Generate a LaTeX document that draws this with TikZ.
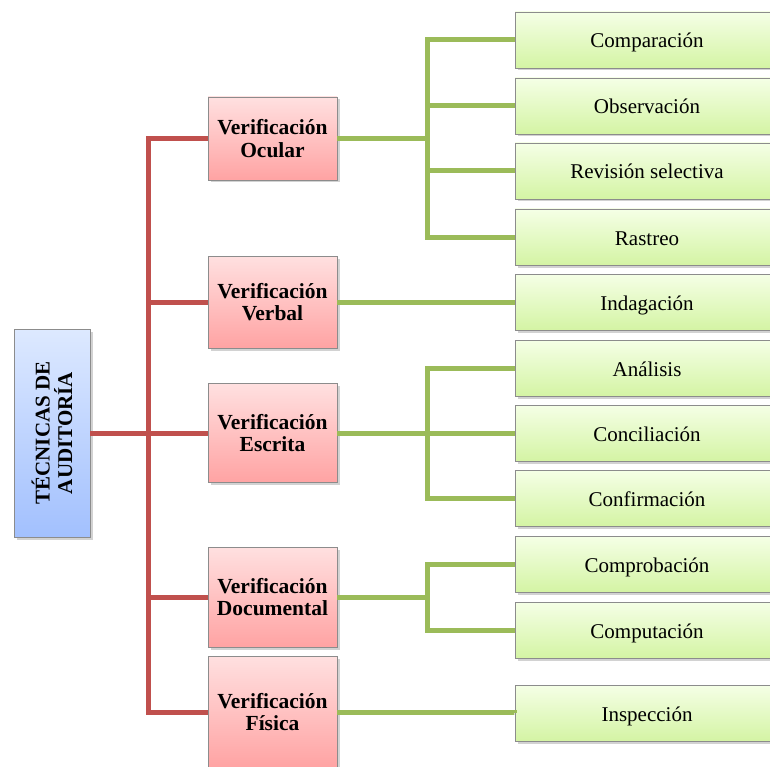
\documentclass[tikz,border=0pt]{standalone}
\usepackage{fontspec}
\setmainfont{Liberation Serif}
\usetikzlibrary{shadows}
\definecolor{redtop}{HTML}{FFE0E0}
\definecolor{redbot}{HTML}{FFA3A3}
\definecolor{greentop}{HTML}{F5FFE6}
\definecolor{greenbot}{HTML}{D4F4A4}
\definecolor{bluetop}{HTML}{DDE9FF}
\definecolor{bluebot}{HTML}{A2C0FE}
\definecolor{redln}{HTML}{C0504D}
\definecolor{greenln}{HTML}{9BBB59}
\definecolor{boxedge}{HTML}{8C8C8C}
\begin{document}
\begin{tikzpicture}[x=1pt,y=-1pt,
  box/.style={draw=boxedge, line width=0.9pt, inner sep=0pt, align=center,
    drop shadow={shadow xshift=2.5pt, shadow yshift=-2.5pt, opacity=0.35}},
  catbox/.style={box, top color=redtop, bottom color=redbot, minimum width=129,
    font=\fontsize{21.5}{22.5}\selectfont\bfseries},
  leafbox/.style={box, top color=greentop, bottom color=greenbot, minimum width=264,
    minimum height=56, text height=18pt, text depth=2pt, font=\fontsize{21}{23}\selectfont},
  rootbox/.style={box, top color=bluetop, bottom color=bluebot, minimum width=76,
    minimum height=208},
  redline/.style={draw=redln, line width=5pt},
  greenline/.style={draw=greenln, line width=5pt}]
\clip (0,0) rectangle (770,767);
\fill[white] (0,0) rectangle (770,767);

% root
\node[rootbox] (root) at (52,433) {};
\node[rotate=90, align=center, inner sep=0pt,
  font=\fontsize{21}{22.5}\selectfont\bfseries] (rootlabel) at (root.center) {TÉCNICAS DE\\AUDITORÍA};

% categories
\node[catbox, minimum height=83] (ocular) at (272.5,138.5) {Verificación\\Ocular};
\node[catbox, minimum height=92] (verbal) at (272.5,302) {Verificación\\Verbal};
\node[catbox, minimum height=99] (escrita) at (272.5,433) {Verificación\\Escrita};
\node[catbox, minimum height=100] (documental) at (272.5,597) {Verificación\\Documental};
\node[catbox, minimum height=112] (fisica) at (272.5,712) {Verificación\\Física};

% leaves
\node[leafbox] (comparacion) at (647,40) {Comparación};
\node[leafbox] (observacion) at (647,106) {Observación};
\node[leafbox] (revision) at (647,171) {Revisión selectiva};
\node[leafbox] (rastreo) at (647,237) {Rastreo};
\node[leafbox] (indagacion) at (647,302) {Indagación};
\node[leafbox] (analisis) at (647,368) {Análisis};
\node[leafbox] (conciliacion) at (647,433) {Conciliación};
\node[leafbox] (confirmacion) at (647,498) {Confirmación};
\node[leafbox] (comprobacion) at (647,564) {Comprobación};
\node[leafbox] (computacion) at (647,630) {Computación};
\node[leafbox] (inspeccion) at (647,713) {Inspección};

\coordinate (trunk) at (148,0);
\coordinate (bus) at (427,0);

% red connectors
\draw[redline] (ocular.west) -- (ocular.west -| trunk) -- (fisica.west -| trunk) -- (fisica.west);
\draw[redline] (root.east) -- (root.east -| trunk);
\draw[redline] (verbal.west -| trunk) -- (verbal.west);
\draw[redline] (escrita.west -| trunk) -- (escrita.west);
\draw[redline] (documental.west -| trunk) -- (documental.west);

% green connectors
\draw[greenline] (ocular.east) -- (ocular.east -| bus);
\draw[greenline] (comparacion.west) -- (comparacion.west -| bus) -- (rastreo.west -| bus) -- (rastreo.west);
\draw[greenline] (observacion.west -| bus) -- (observacion.west);
\draw[greenline] (revision.west -| bus) -- (revision.west);

\draw[greenline] (verbal.east) -- (indagacion.west);

\draw[greenline] (escrita.east) -- (escrita.east -| bus);
\draw[greenline] (analisis.west) -- (analisis.west -| bus) -- (confirmacion.west -| bus) -- (confirmacion.west);
\draw[greenline] (conciliacion.west -| bus) -- (conciliacion.west);

\draw[greenline] (documental.east) -- (documental.east -| bus);
\draw[greenline] (comprobacion.west) -- (comprobacion.west -| bus) -- (computacion.west -| bus) -- (computacion.west);

\draw[greenline] (fisica.east) -- (fisica.east -| inspeccion.west) -- (inspeccion.west);
\end{tikzpicture}
\end{document}
